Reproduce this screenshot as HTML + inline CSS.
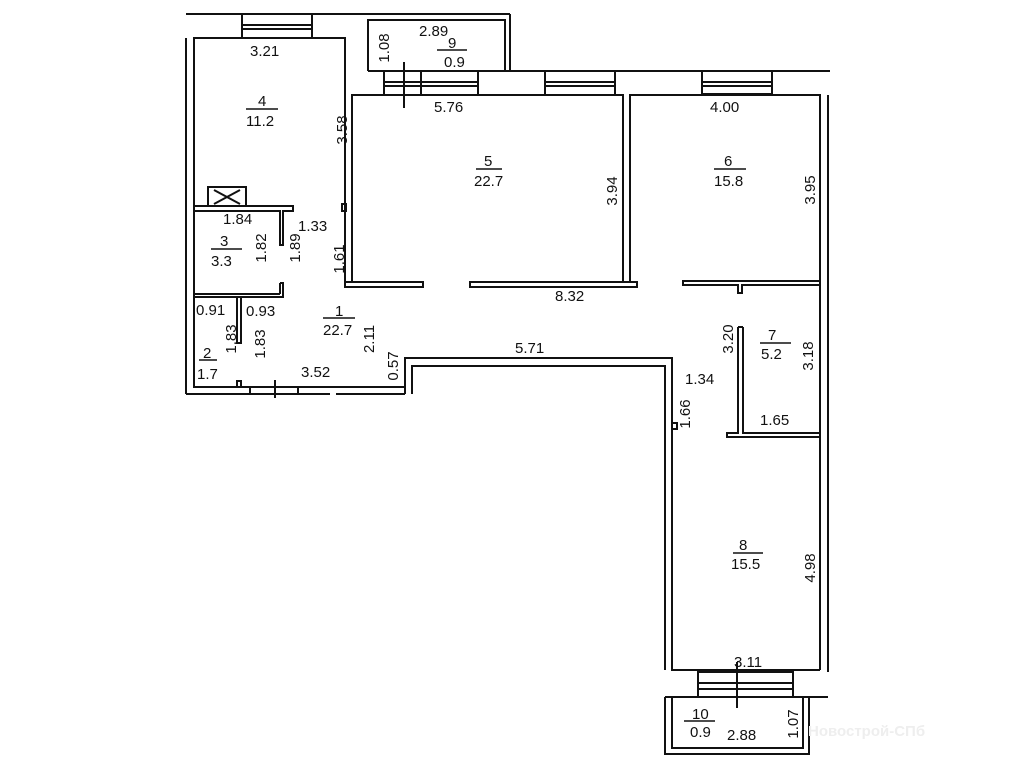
<!DOCTYPE html>
<html><head><meta charset="utf-8"><style>
html,body{margin:0;padding:0;background:#fff;}
svg{display:block}
text{font-family:"Liberation Sans",sans-serif;font-size:15px;fill:#111;}
</style></head><body>
<svg width="1015" height="768" viewBox="0 0 1015 768">
<g stroke="#111" stroke-width="2" fill="none">
<line x1="186" y1="14" x2="510" y2="14"/>
<line x1="510" y1="14" x2="510" y2="71"/>
<polyline points="368,71 368,20 505,20 505,71"/>
<line x1="368" y1="71" x2="830" y2="71"/>
<rect x="242" y="14" width="70" height="24"/>
<line x1="242" y1="25" x2="312" y2="25"/><line x1="242" y1="29" x2="312" y2="29"/>
<polyline points="194,388 194,38 345,38 345,287"/>
<line x1="186" y1="38" x2="186" y2="394"/>
<rect x="342" y="204" width="4" height="7"/>
<rect x="384" y="71" width="94" height="24"/>
<line x1="421" y1="71" x2="421" y2="95"/>
<line x1="384" y1="82" x2="478" y2="82"/><line x1="384" y1="86" x2="478" y2="86"/>
<line x1="404" y1="62" x2="404" y2="108"/>
<rect x="545" y="71" width="70" height="24"/>
<line x1="545" y1="82" x2="615" y2="82"/><line x1="545" y1="86" x2="615" y2="86"/>
<polyline points="352,282 352,95 623,95 623,282"/>
<rect x="345" y="282" width="78" height="5"/>
<rect x="470" y="282" width="167" height="5"/>
<polyline points="630,282 630,95 820,95 820,281 683,281 683,285 738,285 738,293 742,293 742,285 820,285"/>
<rect x="702" y="71" width="70" height="23"/>
<line x1="702" y1="82" x2="772" y2="82"/><line x1="702" y1="86" x2="772" y2="86"/>
<line x1="828" y1="95" x2="828" y2="672"/>
<line x1="820" y1="95" x2="820" y2="670"/>
<polyline points="738,327 738,433 727,433 727,437 820,437"/>
<polyline points="743,327 743,433 820,433"/>
<line x1="738" y1="327" x2="743" y2="327"/>
<polyline points="405,394 405,358 672,358 672,670 820,670"/>
<polyline points="412,394 412,366 665,366 665,670"/>
<rect x="672" y="423" width="5" height="6"/>
<line x1="194" y1="387" x2="405" y2="387"/>
<line x1="186" y1="394" x2="330" y2="394"/>
<line x1="336" y1="394" x2="405" y2="394"/>
<rect x="250" y="387" width="48" height="7"/>
<line x1="275" y1="380" x2="275" y2="398"/>
<rect x="237" y="381" width="4" height="6"/>
<polyline points="194,206 293,206 293,211 283,211 283,245 280,245 280,211 194,211"/>
<rect x="208" y="187" width="38" height="19"/>
<line x1="214" y1="190" x2="240" y2="204"/><line x1="214" y1="204" x2="240" y2="190"/>
<polyline points="280,283 283,283 283,297 194,297"/>
<line x1="194" y1="294" x2="280" y2="294"/>
<line x1="280" y1="283" x2="280" y2="294"/>
<rect x="237" y="297" width="4" height="46"/>
<rect x="698" y="672" width="95" height="25"/>
<line x1="698" y1="683" x2="793" y2="683"/><line x1="698" y1="689" x2="793" y2="689"/>
<line x1="737" y1="662" x2="737" y2="708"/>
<line x1="665" y1="697" x2="828" y2="697"/>
<polyline points="665,697 665,754 809,754 809,697"/>
<polyline points="672,697 672,748 803,748 803,697"/>
</g>
<g stroke="#111" stroke-width="1.5">
<line x1="437" y1="50" x2="467" y2="50"/>
<line x1="246" y1="109" x2="278" y2="109"/>
<line x1="476" y1="169" x2="502" y2="169"/>
<line x1="714" y1="169" x2="746" y2="169"/>
<line x1="211" y1="249" x2="242" y2="249"/>
<line x1="323" y1="318" x2="355" y2="318"/>
<line x1="199" y1="360" x2="217" y2="360"/>
<line x1="760" y1="343" x2="791" y2="343"/>
<line x1="733" y1="553" x2="763" y2="553"/>
<line x1="684" y1="721" x2="715" y2="721"/>
</g>
<text x="419" y="36">2.89</text>
<text x="448" y="48">9</text>
<text x="444" y="67">0.9</text>
<text x="250" y="56">3.21</text>
<text x="258" y="106">4</text>
<text x="246" y="126">11.2</text>
<text x="434" y="112">5.76</text>
<text x="484" y="166">5</text>
<text x="474" y="186">22.7</text>
<text x="710" y="112">4.00</text>
<text x="724" y="166">6</text>
<text x="714" y="186">15.8</text>
<text x="223" y="224">1.84</text>
<text x="298" y="231">1.33</text>
<text x="220" y="246">3</text>
<text x="211" y="266">3.3</text>
<text x="555" y="301">8.32</text>
<text x="196" y="315">0.91</text>
<text x="246" y="316">0.93</text>
<text x="335" y="316">1</text>
<text x="323" y="335">22.7</text>
<text x="515" y="353">5.71</text>
<text x="768" y="340">7</text>
<text x="761" y="359">5.2</text>
<text x="685" y="384">1.34</text>
<text x="203" y="358">2</text>
<text x="197" y="379">1.7</text>
<text x="301" y="377">3.52</text>
<text x="760" y="425">1.65</text>
<text x="739" y="550">8</text>
<text x="731" y="569">15.5</text>
<text x="734" y="667">3.11</text>
<text x="692" y="719">10</text>
<text x="690" y="737">0.9</text>
<text x="727" y="740">2.88</text>
<g>
<text transform="translate(389,48) rotate(-90)" text-anchor="middle">1.08</text>
<text transform="translate(347,130) rotate(-90)" text-anchor="middle">3.58</text>
<text transform="translate(617,191) rotate(-90)" text-anchor="middle">3.94</text>
<text transform="translate(815,190) rotate(-90)" text-anchor="middle">3.95</text>
<text transform="translate(266,248) rotate(-90)" text-anchor="middle">1.82</text>
<text transform="translate(300,248) rotate(-90)" text-anchor="middle">1.89</text>
<text transform="translate(344,259) rotate(-90)" text-anchor="middle">1.61</text>
<text transform="translate(236,339) rotate(-90)" text-anchor="middle">1.83</text>
<text transform="translate(265,344) rotate(-90)" text-anchor="middle">1.83</text>
<text transform="translate(374,339) rotate(-90)" text-anchor="middle">2.11</text>
<text transform="translate(398,366) rotate(-90)" text-anchor="middle">0.57</text>
<text transform="translate(733,339) rotate(-90)" text-anchor="middle">3.20</text>
<text transform="translate(813,356) rotate(-90)" text-anchor="middle">3.18</text>
<text transform="translate(690,414) rotate(-90)" text-anchor="middle">1.66</text>
<text transform="translate(815,568) rotate(-90)" text-anchor="middle">4.98</text>
<text transform="translate(798,724) rotate(-90)" text-anchor="middle">1.07</text>
</g>
<text x="808" y="736" font-size="26" style="fill:#eee" font-weight="bold">Новострой-СПб</text>
</svg>
</body></html>
